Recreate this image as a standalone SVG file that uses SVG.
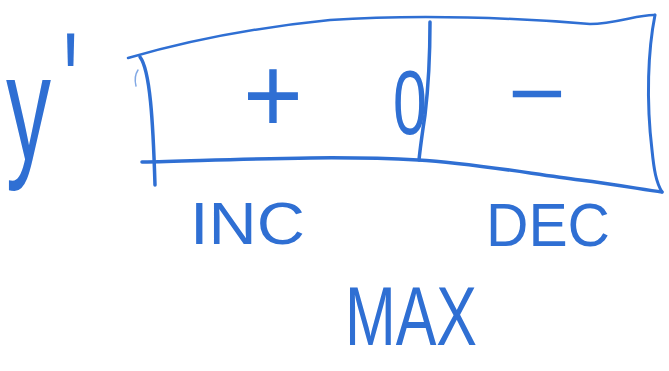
<svg xmlns="http://www.w3.org/2000/svg" width="669" height="371" viewBox="0 0 669 371">
<style>
.ink{fill:none;stroke:#2f6fd3;stroke-linecap:round;stroke-linejoin:round}
.t{fill:#2f6fd3;font-family:"Liberation Sans",Arial,sans-serif}
</style>
<rect width="669" height="371" fill="#fff"/>
<g id="ylabel">
<text class="t" font-size="100" transform="translate(6,160) scale(0.9,1.5)">y</text>
<text class="t" font-size="100" transform="translate(63,137) scale(0.8,1.5)">'</text>
</g>
<g id="chart">
<path class="ink" stroke-width="2.5" d="M128 58 C190 40 250 28 330 20 C420 14 520 18 590 24 C615 24 640 14 655 15"/>
<path class="ink" stroke-width="3" d="M655 15 C648 50 646 100 652 150 C654 170 656 182 662 192"/>
<path class="ink" stroke-width="3.5" d="M140 57 C150 70 153 120 155 185"/>
<path class="ink" stroke-width="1.5" d="M138 70 C134 76 135 82 136 86" opacity="0.6"/>
<path class="ink" stroke-width="3.5" d="M142 162 C230 160 330 155 418 160 C470 163 520 172 580 180 C620 185 645 190 662 192"/>
<path class="ink" stroke-width="3.5" d="M430 22 C430 60 428 90 425 115 C422 135 420 150 419 160"/>
</g>
<g id="signs">
<text class="t" x="243" y="133" font-size="110" textLength="60" lengthAdjust="spacingAndGlyphs">+</text>
<text class="t" x="393" y="134" font-size="90" textLength="34" lengthAdjust="spacingAndGlyphs">0</text>
<text class="t" x="508" y="124" font-size="90" textLength="58" lengthAdjust="spacingAndGlyphs">−</text>
</g>
<g id="labels">
<text class="t" x="190" y="244" font-size="60" textLength="115" lengthAdjust="spacingAndGlyphs">INC</text>
<text class="t" x="486" y="246" font-size="62" textLength="124" lengthAdjust="spacingAndGlyphs">DEC</text>
<text class="t" x="345" y="345" font-size="84" textLength="132" lengthAdjust="spacingAndGlyphs">MAX</text>
</g>
</svg>
